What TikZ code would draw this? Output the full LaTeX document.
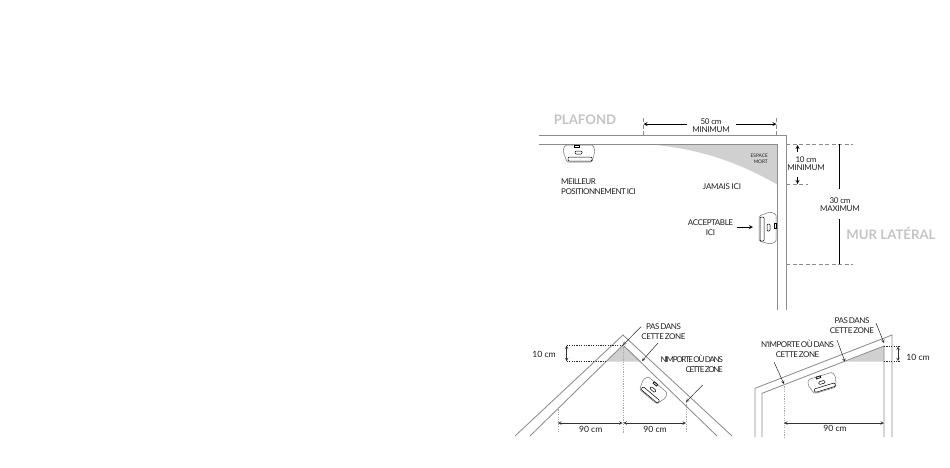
\documentclass[tikz,border=0pt]{standalone}
\usepackage{fontspec}
\setmainfont{Lato}
\newfontfamily\lblface[LetterSpace=-3]{Lato}
\newfontfamily\roofface[LetterSpace=-5,WordSpace=0.6]{Lato}
\newfontfamily\longface[LetterSpace=-6,WordSpace=0.6]{Lato}
\newfontfamily\tightface[LetterSpace=-16,WordSpace=0.5]{Lato}
\usepackage{tikz}
\definecolor{wallgray}{HTML}{8C8C8C}
\definecolor{zonegray}{HTML}{D0D0D0}
\definecolor{titlegray}{HTML}{C4C4C4}
\definecolor{inkgray}{HTML}{1E1E1E}
\tikzset{
  wall/.style={draw=wallgray,line width=0.85pt},
  zone/.style={fill=zonegray,draw=none},
  dim/.style={draw=black,line width=0.8pt,->,>=stealth},
  dimboth/.style={draw=black!80,line width=0.55pt,<->,>=stealth},
  guide/.style={draw=wallgray,line width=0.7pt,dash pattern=on 4pt off 2.5pt},
  dotguide/.style={draw=black!85,line width=0.6pt,dash pattern=on 1.2pt off 1.2pt},
  dotlight/.style={draw=black!35,line width=0.6pt,dash pattern=on 1.2pt off 1.2pt},
  leader/.style={draw=black!85,line width=0.5pt,->,>=stealth},
  lbl/.style={align=center,text=inkgray,inner sep=0pt,font=\lblface\fontsize{8}{8}\selectfont},
  lblcm/.style={lbl,font=\fontsize{8.6}{9}\selectfont},
  lblroof/.style={lbl,font=\roofface\fontsize{8}{10}\selectfont},
  lbllong/.style={lbl,font=\longface\fontsize{8}{10}\selectfont},
  lbltight/.style={lbl,font=\tightface\fontsize{8}{10}\selectfont},
  title/.style={text=titlegray,inner sep=0pt,font=\fontsize{13.2}{14}\bfseries\selectfont},
  sensor/.pic={
    \draw [black!55,line width=0.5pt,rounded corners=1.5pt] (-14,1) -- (-16,7) -- (-12,18) -- (13,18) -- (16,7) -- (14,1) -- cycle;
    \draw [black,line width=0.7pt] (-5,1) rectangle (0,3);
    \draw [black,line width=0.5pt,rounded corners=1pt] (-4,7) rectangle (3,10);
    \draw [black,line width=0.5pt,rounded corners=1pt] (-11,13) rectangle (13,17);
  }
}
\begin{document}
\begin{tikzpicture}[x=1pt,y=-1pt]
\useasboundingbox (0,0) rectangle (950,467);
% ceiling and side wall
\fill [zone] (640,144) .. controls (690,146) and (735,160) .. (777,184.5) -- (777,144) -- cycle;
\coordinate (ceilouterleft) at (539,135.5);
\coordinate (ceilouterright) at (786,135.5);
\coordinate (wallouterend) at (786,310);
\coordinate (ceilinnerleft) at (539,144);
\coordinate (ceilinnerright) at (777,144);
\coordinate (wallinnerend) at (777,310);
\draw [wall] (ceilouterleft) -- (ceilouterright) -- (wallouterend);
\draw [wall] (ceilinnerleft) -- (ceilinnerright) -- (wallinnerend);
\node [title] (plafond) at (585,120) {PLAFOND};
\node [title] (murlateral) at (891,233) {MUR LATÉRAL};
\pic at (579,144) {sensor};
\pic at (777,228) [rotate=-90] {sensor};
\node [lbllong,anchor=west,align=left] (meilleur) at (561,186.5) {MEILLEUR\\POSITIONNEMENT ICI};
\node [lbl] (jamais) at (722,187) {JAMAIS ICI};
\node [lbl,align=right,anchor=east,font=\fontsize{4.8}{6}\selectfont] (espace) at (768,158.7) {ESPACE\\MORT};
\node [lblroof] (acceptable) at (710.5,227.5) {ACCEPTABLE\\ICI};
\coordinate (acceptabletip) at (753,227);
\draw [dim] (737,227) -- (acceptabletip);
% 50 cm
\coordinate (fiftyleft) at (643.5,124);
\coordinate (fiftyright) at (776.5,124);
\draw [guide] (643.5,118) -- (643.5,135);
\draw [guide] (776.5,118) -- (776.5,135);
\node [lbl] (fifty) at (711,125.5) {50 cm\\MINIMUM};
\draw [dim] (687,124) -- (fiftyleft);
\draw [dim] (736,124) -- (fiftyright);
% 10 cm and 30 cm
\draw [guide] (786,144) -- (853,144);
\draw [guide] (786,184) -- (808,184);
\draw [guide] (786,264) -- (853,264);
\node [lbl] (tenmin) at (806,164) {10 cm\\MINIMUM};
\node [lbl] (thirtymax) at (840,205) {30 cm\\MAXIMUM};
\coordinate (tentop) at (797.5,145);
\coordinate (tenbottom) at (797.5,184);
\draw [dim] (797.5,152) -- (tentop);
\draw [dim] (797.5,177) -- (tenbottom);
\coordinate (thirtytop) at (839,144);
\coordinate (thirtybottom) at (839,264);
\draw [draw=black,line width=0.8pt] (thirtytop) -- (839,189);
\draw [draw=black,line width=0.8pt] (839,219) -- (thirtybottom);
% pitched roof
\fill [zone] (623,345) -- (606.7,361.7) -- (641.7,361.7) -- cycle;
\coordinate (apexouter) at (623,335);
\coordinate (apexinner) at (623,345);
\draw [wall] (515,436) -- (apexouter) -- (732,436);
\draw [wall] (530,436) -- (apexinner) -- (717,436);
\pic at (658.3,384) [rotate=-40,scale=0.9] {sensor};
\draw [dotguide] (566.7,345) -- (apexinner);
\draw [dotguide] (566.7,361.7) -- (606.7,361.7);
\draw [dotlight] (apexinner) -- (623,433);
\draw [dotlight] (558,407) -- (558,433);
\draw [dotlight] (686,402) -- (686,433);
\draw [dimboth] (566.7,345.5) -- (566.7,361.2);
\node [lblcm] (tenroof) at (544,354) {10 cm};
\draw [dimboth] (558,423) -- (622.6,423);
\draw [dimboth] (623.4,423) -- (686,423);
\node [lblcm] (ninetya) at (590.7,429) {90 cm};
\node [lblcm] (ninetyb) at (655,429) {90 cm};
\node [lblroof] (pasroof) at (663.5,332) {PAS DANS\\CETTE ZONE};
\draw [leader] (641,326.7) -- (apexinner);
\draw [leader] (658,343) -- (642,361);
\node [lbltight,align=right,anchor=east] (nimporteroof) at (723,364) {N'IMPORTE OÙ DANS\\CETTE ZONE};
\draw [leader] (702.7,385) -- (686,402);
% sloped ceiling
\fill [zone] (884,346) -- (884,361.7) -- (845,361.7) -- cycle;
\draw [wall] (755,437) -- (755,388.3) -- (892,335) -- (892,437);
\draw [wall] (762,437) -- (762,393.3) -- (884,346) -- (884,437);
\pic at (820,375) [rotate=17,scale=0.9] {sensor};
\draw [dotguide] (884,346) -- (900,346);
\draw [dotguide] (884,361.7) -- (900,361.7);
\draw [dotlight] (784,384) -- (784,437);
\draw [dimboth] (898,346.5) -- (898,361.2);
\node [lblcm] (tenslope) at (918,357.7) {10 cm};
\draw [dimboth] (784,423) -- (884,423);
\node [lblcm] (ninetyc) at (835,428.5) {90 cm};
\node [lblroof] (passlope) at (852,326) {PAS DANS\\CETTE ZONE};
\draw [leader] (876,323) -- (884,343);
\draw [leader] (837,340) -- (845,361.7);
\node [lbllong] (nimporteslope) at (797.5,349) {N'IMPORTE OÙ DANS\\CETTE ZONE};
\draw [leader] (774,362) -- (784,384);
\end{tikzpicture}
\end{document}
